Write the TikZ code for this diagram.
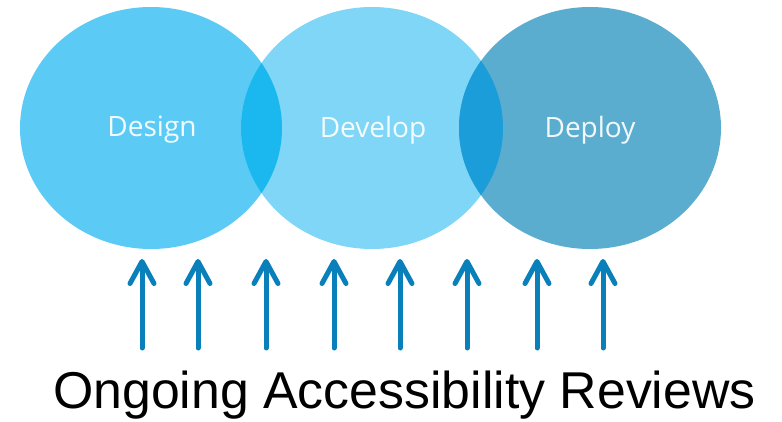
\documentclass[tikz,border=0pt]{standalone}
\usepackage{fontspec}
\setmainfont{Liberation Sans}
\newfontfamily\phasefont{Open Sans}
\usetikzlibrary{arrows.meta}

\definecolor{dsgnblue}{HTML}{5BCBF5}
\definecolor{dvlpblue}{HTML}{7FD6F6}
\definecolor{dplyblue}{HTML}{5BADCF}
\definecolor{dsgndvlp}{HTML}{1BB8EF}
\definecolor{dvlpdply}{HTML}{1A9DD9}
\definecolor{reviewblue}{HTML}{0A80BA}

\begin{document}
\begin{tikzpicture}[x=1pt,y=-1pt,
    phase/.style={text=white,text opacity=0.92,font=\phasefont\fontsize{28}{30}\selectfont},
    review/.style={reviewblue,line width=5pt,line cap=round,
      -{Straight Barb[length=22pt,width=24pt,line width=5pt,round]}}]
  \useasboundingbox (0,0) rectangle (782,422);
  % the three phases
  \fill[dsgnblue] (151,128) ellipse [x radius=131, y radius=121];
  \fill[dvlpblue] (372,128) ellipse [x radius=131, y radius=121];
  \fill[dplyblue] (590,128) ellipse [x radius=131, y radius=121];
  % overlaps
  \begin{scope}
    \clip (151,128) ellipse [x radius=131, y radius=121];
    \fill[dsgndvlp] (372,128) ellipse [x radius=131, y radius=121];
  \end{scope}
  \begin{scope}
    \clip (372,128) ellipse [x radius=131, y radius=121];
    \fill[dvlpdply] (590,128) ellipse [x radius=131, y radius=121];
  \end{scope}
  \node[phase] (design) at (152,130) {Design};
  \node[phase] (develop) at (373,130) {Develop};
  \node[phase] (deploy) at (590,130) {Deploy};
  % review arrows
  \foreach \xx [count=\i] in {142,198,266,334,400,467,537,603}
   {
    \coordinate (rb\i) at (\xx,348);
    \coordinate (rt\i) at (\xx,259);
    \draw[review] (rb\i) -- (rt\i);
   }
  \node[anchor=base west,inner sep=0pt,font=\fontsize{51.8}{55}\selectfont]
    (reviews) at (53,408) {Ongoing Accessibility Reviews};
\end{tikzpicture}
\end{document}
